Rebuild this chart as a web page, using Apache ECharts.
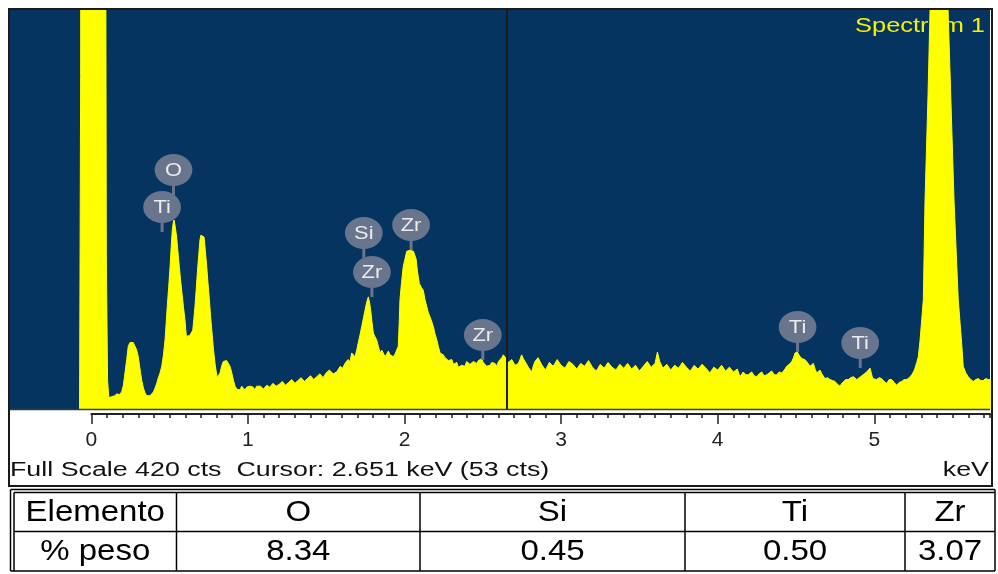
<!DOCTYPE html>
<html>
<head>
<meta charset="utf-8">
<script src="https://cdn.jsdelivr.net/npm/echarts@6/dist/echarts.min.js"></script>
<style>
html,body{margin:0;padding:0;background:#ffffff;}
#chart{width:998px;height:574px;}
</style>
</head>
<body>
<div id="chart"></div>
<script>
// EDS spectrum, energy in keV against counts

// 0 - 1.07 keV: noise peak, C/O/Ti-L region
const spectrumLow = [
  [-0.075,0],[-0.068,350],[-0.060,1800],[-0.040,3200],[0.000,3800],[0.040,3300],[0.075,2200],[0.088,900],
  [0.096,160],[0.104,30],[0.112,12],[0.122,10],[0.131,13],[0.139,15],[0.150,14],[0.164,16],[0.178,15],
  [0.194,18],[0.205,25],[0.215,38],[0.226,52],[0.236,66],[0.247,70],[0.258,71],[0.268,70],[0.279,68],
  [0.290,62],[0.300,55],[0.311,42],[0.322,30],[0.333,22],[0.343,17],[0.354,14],[0.364,13],[0.375,14],
  [0.386,15],[0.397,18],[0.407,22],[0.418,27],[0.428,33],[0.439,38],[0.450,45],[0.460,56],[0.471,73],
  [0.478,90],[0.485,108],[0.494,128],[0.503,150],[0.510,170],[0.517,188],[0.523,196],[0.528,199],
  [0.536,192],[0.545,181],[0.553,166],[0.562,150],[0.570,136],[0.579,122],[0.588,108],[0.598,94],
  [0.604,82],[0.609,73],[0.614,77],[0.619,78],[0.628,77],[0.637,76],[0.648,83],[0.655,95],[0.662,108],
  [0.670,126],[0.677,143],[0.686,162],[0.694,178],[0.700,183],[0.705,184],[0.712,183],[0.720,181],
  [0.728,167],[0.737,150],[0.745,133],[0.754,115],[0.762,97],[0.771,80],[0.780,63],[0.790,48],
  [0.798,39],[0.805,33],[0.813,35],[0.822,38],[0.832,45],[0.843,50],[0.853,48],[0.864,51],[0.875,50],
  [0.886,45],[0.897,38],[0.908,30],[0.918,24],[0.929,21],[0.939,22],[0.950,20],[0.960,24],[0.971,23],
  [0.982,20],[0.992,23],[1.003,21],[1.013,24],[1.024,22],[1.034,23],[1.045,20],[1.055,24],[1.066,22]
];

// 1.08 - 2.86 keV: Si / Zr-L region
const spectrumMid = [
  [1.08,24],[1.10,21],[1.12,25],[1.14,23],[1.16,27],[1.18,24],[1.20,26],[1.22,29],[1.24,25],[1.26,28],
  [1.28,31],[1.30,27],[1.32,30],[1.34,33],[1.36,29],[1.38,32],[1.40,35],[1.42,31],[1.44,34],[1.46,37],
  [1.48,33],[1.50,38],[1.52,41],[1.545,37],[1.567,39],[1.590,45],[1.605,43],[1.620,48],[1.639,52],
  [1.652,50],[1.663,59],[1.674,57],[1.684,55],[1.695,62],[1.705,70],[1.716,78],[1.727,87],[1.738,96],
  [1.748,104],[1.758,112],[1.769,118],[1.777,112],[1.784,104],[1.792,92],[1.801,80],[1.812,76],
  [1.822,73],[1.833,66],[1.844,59],[1.855,62],[1.865,60],[1.876,55],[1.886,57],[1.897,61],[1.908,57],
  [1.918,59],[1.929,55],[1.940,58],[1.950,57],[1.960,66],[1.966,90],[1.971,115],[1.981,133],[1.992,150],
  [2.003,158],[2.014,166],[2.025,167],[2.035,167],[2.046,168],[2.057,166],[2.067,167],[2.074,158],
  [2.082,146],[2.089,138],[2.095,132],[2.108,128],[2.120,125],[2.131,115],[2.142,108],[2.153,101],
  [2.163,97],[2.174,92],[2.184,87],[2.195,79],[2.206,73],[2.216,66],[2.227,59],[2.238,60],[2.248,57],
  [2.259,54],[2.269,55],[2.280,51],[2.291,50],[2.302,52],[2.313,47],[2.323,46],[2.334,49],[2.344,44],
  [2.354,43],[2.365,46],[2.375,48],[2.386,45],[2.397,50],[2.407,50],[2.418,47],[2.429,46],[2.440,50],
  [2.450,48],[2.461,48],[2.472,51],[2.483,50],[2.493,53],[2.503,49],[2.514,48],[2.525,45],[2.535,47],
  [2.546,46],[2.557,49],[2.567,48],[2.578,48],[2.589,45],[2.600,50],[2.610,52],[2.621,54],[2.631,57],
  [2.642,55],[2.651,53],[2.663,49],[2.674,47],[2.685,52],[2.695,50],[2.706,46],[2.716,44],[2.727,48],
  [2.737,52],[2.748,57],[2.759,53],[2.770,50],[2.780,48],[2.791,44],[2.801,42],[2.812,39],[2.822,45],
  [2.833,50],[2.843,52],[2.853,54]
];

// 2.87 - 5.75 keV: Ti-K lines and the 5.4 keV peak
const spectrumHigh = [
  [2.875,47],[2.900,41],[2.925,49],[2.950,45],[2.975,52],[3.000,46],[3.025,43],[3.050,50],[3.075,47],
  [3.100,42],[3.125,48],[3.150,45],[3.175,51],[3.200,44],[3.225,40],[3.250,47],[3.275,43],[3.300,49],
  [3.325,44],[3.350,41],[3.375,47],[3.400,43],[3.425,48],[3.450,42],[3.475,46],[3.500,40],[3.525,45],
  [3.550,50],[3.575,44],[3.600,48],[3.615,60],[3.630,50],[3.650,43],[3.675,47],[3.700,41],[3.725,46],
  [3.750,43],[3.775,49],[3.800,44],[3.825,40],[3.850,46],[3.875,42],[3.900,47],[3.925,43],[3.950,38],
  [3.975,44],[4.000,41],[4.025,46],[4.050,40],[4.075,44],[4.100,39],[4.125,42],[4.142,34],[4.163,39],
  [4.180,36],[4.195,36],[4.217,39],[4.233,35],[4.249,34],[4.265,37],[4.281,39],[4.297,35],[4.313,36],
  [4.329,38],[4.345,40],[4.361,36],[4.377,36],[4.393,39],[4.409,38],[4.425,41],[4.441,45],[4.457,47],
  [4.473,50],[4.484,54],[4.494,59],[4.508,60],[4.517,58],[4.526,55],[4.540,53],[4.557,52],[4.573,49],
  [4.589,45],[4.600,47],[4.611,48],[4.622,42],[4.632,38],[4.643,40],[4.653,41],[4.669,36],[4.685,32],
  [4.701,33],[4.717,31],[4.733,30],[4.749,29],[4.765,26],[4.781,24],[4.792,27],[4.802,29],[4.818,31],
  [4.834,31],[4.850,33],[4.866,34],[4.877,32],[4.888,31],[4.904,33],[4.920,35],[4.936,37],[4.951,39],
  [4.962,41],[4.973,43],[4.982,37],[4.990,32],[5.002,31],[5.015,31],[5.031,33],[5.047,32],[5.063,29],
  [5.079,27],[5.095,31],[5.111,31],[5.127,28],[5.143,25],[5.159,28],[5.175,29],[5.191,31],[5.207,31],
  [5.223,33],[5.239,36],[5.250,39],[5.260,43],[5.271,49],[5.281,55],[5.292,72],[5.303,94],[5.313,115],
  [5.324,220],[5.343,330],[5.356,420],[5.381,560],[5.413,620],[5.445,560],[5.471,420],[5.490,320],
  [5.509,220],[5.536,115],[5.558,69],[5.568,45],[5.584,38],[5.600,34],[5.616,31],[5.632,29],[5.648,31],
  [5.664,32],[5.680,30],[5.696,30],[5.712,32],[5.728,31],[5.750,31]
];

const fullScaleCts = 420;
const cursorKeV = 2.651;
const cursorCts = 53;
const rulerTicks = [0, 1, 2, 3, 4, 5];

// identified lines: element, energy (keV), label height (cts)
const lineNames = ['O', 'Ti', 'Si', 'Zr', 'Zr', 'Zr', 'Ti', 'Ti'];
const lineKeV = [0.525, 0.452, 1.740, 1.792, 2.042, 2.50, 4.510, 4.910];
const lineLabelCts = [251.6, 212.6, 185.3, 144.2, 193.7, 77.9, 86.3, 69.5];

// quantification table
const tableHeader = 'Elemento';
const tableRowLabel = '% peso';
const tableElements = ['O', 'Si', 'Ti', 'Zr'];
const tableWeightPct = [8.34, 0.45, 0.50, 3.07];

const FONT = 'Liberation Sans, Arial, sans-serif';
const BLUE = '#063461';
const YELLOW = '#ffff00';
const MARK = '#68758d';

const spectrum = spectrumLow.concat(spectrumMid, spectrumHigh);
const markers = lineNames.map((n, i) => [lineKeV[i], lineLabelCts[i], n]);

const chart = echarts.init(document.getElementById('chart'), null, {renderer: 'canvas'});

// layout
const plotL = 10, plotT = 10, plotW = 980, plotH = 399;
const keV0X = 91.3, pxPerKeV = 156.6;
const xMin = (plotL - keV0X) / pxPerKeV;
const xMax = (plotL + plotW - keV0X) / pxPerKeV;

function label(text, x, y, size, align, sx, color, z) {
  return {
    type: 'text', x: x, y: y, scaleX: sx, z: z || 10, silent: true,
    style: {text: text, x: 0, y: 0, align: align, verticalAlign: 'middle',
            fontSize: size, fontFamily: FONT, fill: color || '#111'}
  };
}
function hline(x1, x2, y, w, color, z) {
  return {type: 'line', z: z || 10, silent: true, shape: {x1: x1, y1: y, x2: x2, y2: y},
          style: {stroke: color || '#000', lineWidth: w}};
}
function vline(x, y1, y2, w, color, z) {
  return {type: 'line', z: z || 10, silent: true, shape: {x1: x, y1: y1, x2: x, y2: y2},
          style: {stroke: color || '#000', lineWidth: w}};
}

const graphics = [];
// plot background
graphics.push({type: 'rect', z: 0, silent: true, shape: {x: plotL, y: plotT, width: plotW, height: plotH},
               style: {fill: BLUE}});
// spectrum name, sits behind the trace
graphics.push(label('Spectrum 1', 985, 26, 20, 'right', 1.27, '#f2f200', 1));
// separator under the plot and outer frame
graphics.push(hline(plotL, plotL + plotW, plotT + plotH + 0.5, 1.5, '#3a3a3a', 6));
graphics.push({type: 'rect', z: 6, silent: true, shape: {x: 9, y: 9, width: 983, height: 477},
               style: {fill: 'none', stroke: '#1a1a1a', lineWidth: 2}});
// footer
graphics.push(label('Full Scale ' + fullScaleCts + ' cts  Cursor: ' + cursorKeV.toFixed(3) +
                    ' keV (' + cursorCts + ' cts)', 10, 470, 20, 'left', 1.34, '#111'));
graphics.push(label('keV', 989, 470, 20, 'right', 1.34, '#111'));

// table
const tTop1 = 489.5, tTop2 = 492.5, tMid = 531.5, tBot = 571;
const tLeft1 = 10.5, tLeft2 = 14, tRight = 995;
const colEdges = [14, 176.5, 420, 685, 905, 995];
graphics.push(hline(tLeft1, tRight, tTop1, 1.5));
graphics.push(hline(tLeft2, tRight, tTop2, 1.5));
graphics.push(hline(tLeft2, tRight, tMid, 1.5));
graphics.push(hline(tLeft1, tRight, tBot, 1.5));
graphics.push(vline(tLeft1, tTop1, tBot, 1.5));
graphics.push(vline(tLeft2, tTop2, tBot, 1.5));
graphics.push(vline(tRight, tTop1, tBot, 1.5));
for (let i = 1; i < colEdges.length - 1; i++) {
  graphics.push(vline(colEdges[i], tTop2, tBot, 1.5));
}
const row1Y = 513, row2Y = 552;
graphics.push(label(tableHeader, (colEdges[0] + colEdges[1]) / 2, row1Y, 30, 'center', 1.1, '#000'));
graphics.push(label(tableRowLabel, (colEdges[0] + colEdges[1]) / 2, row2Y, 30, 'center', 1.1, '#000'));
tableElements.forEach((el, i) => {
  const cx = (colEdges[i + 1] + colEdges[i + 2]) / 2;
  graphics.push(label(el, cx, row1Y, 30, 'center', 1.1, '#000'));
  graphics.push(label(tableWeightPct[i].toFixed(2), cx, row2Y, 30, 'center', 1.1, '#000'));
});

const option = {
  animation: false,
  backgroundColor: '#ffffff',
  grid: [
    {left: plotL, top: plotT, width: plotW, height: plotH},
    {left: keV0X, top: 404, width: plotL + plotW - keV0X, height: 10}
  ],
  xAxis: [
    {gridIndex: 0, type: 'value', min: xMin, max: xMax, show: false},
    {gridIndex: 1, type: 'value', position: 'bottom', min: 0, max: xMax, interval: 0.1,
     axisLine: {show: true, lineStyle: {color: '#222', width: 2}},
     axisTick: {show: true, length: 4, lineStyle: {color: '#222', width: 1.5}},
     axisLabel: {show: false}, splitLine: {show: false}},
    {gridIndex: 1, type: 'value', position: 'bottom', offset: 0, min: 0, max: xMax, interval: 1,
     axisLine: {show: false},
     axisTick: {show: true, length: 10, customValues: rulerTicks, lineStyle: {color: '#222', width: 1.5}},
     axisLabel: {show: true, customValues: rulerTicks, margin: 16, fontSize: 21, fontFamily: FONT, color: '#222'},
     splitLine: {show: false}}
  ],
  yAxis: [
    {gridIndex: 0, type: 'value', min: 0, max: fullScaleCts, show: false},
    {gridIndex: 1, type: 'value', min: 0, max: 1, show: false}
  ],
  graphic: graphics,
  series: [
    {
      type: 'line', xAxisIndex: 0, yAxisIndex: 0, z: 3,
      data: spectrum, showSymbol: false, symbol: 'none', clip: true,
      lineStyle: {color: YELLOW, width: 1},
      areaStyle: {color: YELLOW, opacity: 1},
      markLine: {
        silent: true, symbol: ['none', 'none'], label: {show: false},
        lineStyle: {color: '#1c1c1c', width: 2, type: 'solid'},
        data: [{xAxis: cursorKeV}]
      }
    },
    {
      type: 'custom', xAxisIndex: 0, yAxisIndex: 0, z: 4, clip: false,
      data: markers,
      renderItem: function (params, api) {
        const p = api.coord([api.value(0), api.value(1)]);
        const name = markers[params.dataIndex][2];
        return {
          type: 'group',
          children: [
            {type: 'line', shape: {x1: p[0], y1: p[1], x2: p[0], y2: p[1] + 25},
             style: {stroke: MARK, lineWidth: 3}},
            {type: 'circle', x: p[0], y: p[1], scaleX: 1.18, shape: {cx: 0, cy: 0, r: 16},
             style: {fill: MARK}},
            {type: 'text', x: p[0], y: p[1] + 1, scaleX: 1.15,
             style: {text: name, x: 0, y: 0, align: 'center', verticalAlign: 'middle',
                     fontSize: 19, fontFamily: FONT, fill: '#ececec'}}
          ]
        };
      }
    }
  ]
};

chart.setOption(option);
</script>
</body>
</html>
